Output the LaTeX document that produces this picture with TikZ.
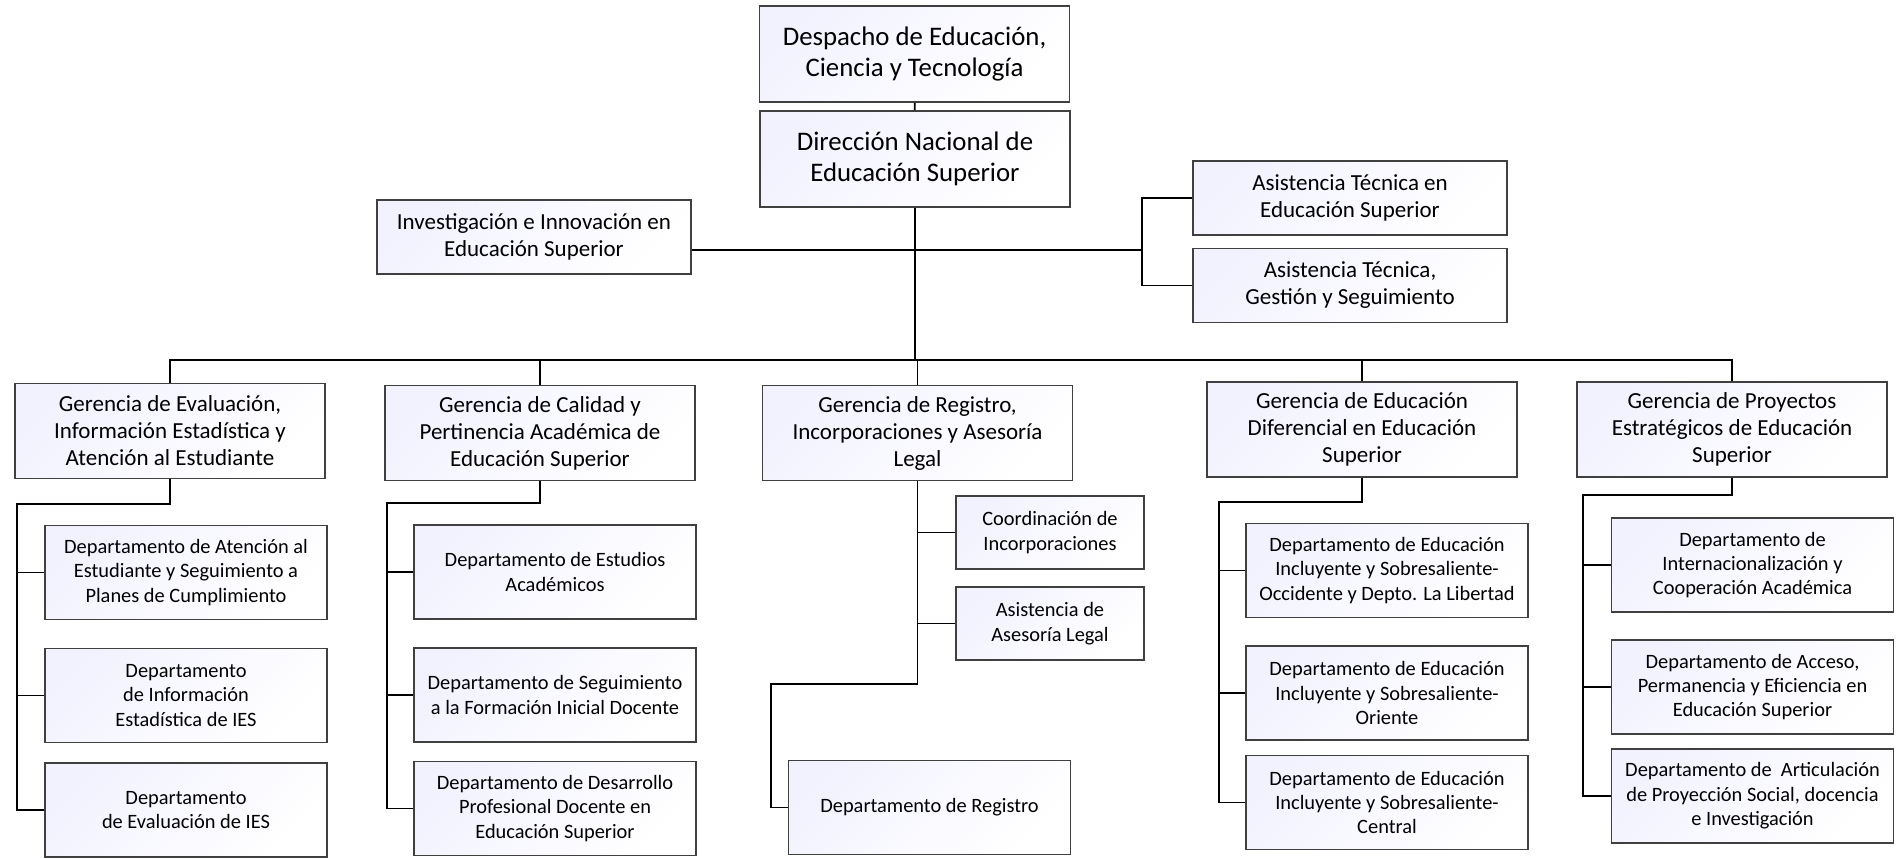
\documentclass[tikz,border=0pt]{standalone}
\usepackage{fontspec}
\setmainfont{Carlito}

\tikzset{
  unit/.style={draw=black!75, line width=0.9pt, left color=blue!5!white, middle color=white, right color=white, shading angle=45, align=center, inner sep=0pt},
  big/.style={unit, minimum width=155pt, minimum height=48pt, font=\fontsize{13.4}{15.5}\selectfont},
  mid/.style={unit, minimum width=157pt, minimum height=37pt, font=\fontsize{11.5}{13.5}\selectfont},
  ger/.style={unit, minimum width=155pt, minimum height=47.5pt, font=\fontsize{11.5}{13.5}\selectfont},
  dep/.style={unit, minimum width=141pt, minimum height=47pt, font=\fontsize{10.2}{12.2}\selectfont},
  small/.style={dep, minimum width=94pt, minimum height=36.5pt},
  link/.style={line width=0.9pt}
}

\begin{document}
\begin{tikzpicture}[x=0.5pt, y=-0.5pt]
\useasboundingbox (0,0) rectangle (1900,858);

	\node[big] (desp) at (914.5,54) {Despacho de Educación,\\Ciencia y Tecnología};
	\node[big] (dir) at (915,159) {Dirección Nacional de\\Educación Superior};
	\node[mid] (inv) at (534,237) {Investigación e Innovación en\\Educación Superior};
	\node[mid] (at1) at (1350,198) {Asistencia Técnica en\\Educación Superior};
	\node[mid] (at2) at (1350,285.5) {Asistencia Técnica,\\Gestión y Seguimiento};

	\node[ger] (g1) at (170,431) {Gerencia de Evaluación,\\Información Estadística y\\Atención al Estudiante};
	\node[ger] (g2) at (540,433) {Gerencia de Calidad y\\Pertinencia Académica de\\Educación Superior};
	\node[ger] (g3) at (917.5,433) {Gerencia de Registro,\\Incorporaciones y Asesoría\\Legal};
	\node[ger] (g4) at (1362,429.5) {Gerencia de Educación\\Diferencial en Educación\\Superior};
	\node[ger] (g5) at (1732,429.5) {Gerencia de Proyectos\\Estratégicos de Educación\\Superior};

	\node[dep] (e1) at (186,572.5) {Departamento de Atención al\\Estudiante y Seguimiento a\\Planes de Cumplimiento};
	\node[dep] (e2) at (186,695.5) {Departamento\\de Información\\Estadística de IES};
	\node[dep] (e3) at (186,810) {Departamento\\de Evaluación de IES};

	\node[dep] (c1) at (555,572) {Departamento de Estudios\\Académicos};
	\node[dep] (c2) at (555,695) {Departamento de Seguimiento\\a la Formación Inicial Docente};
	\node[dep] (c3) at (555,808.5) {Departamento de Desarrollo\\Profesional Docente en\\Educación Superior};

	\node[small] (coo) at (1050,532.5) {Coordinación de\\Incorporaciones};
	\node[small] (ase) at (1050,623.5) {Asistencia de\\Asesoría Legal};
	\node[dep] (reg) at (929.5,807.5) {Departamento de Registro};

	\node[dep] (d1) at (1387,570.5) {Departamento de Educación\\Incluyente y Sobresaliente-\\Occidente y Depto. La Libertad};
	\node[dep] (d2) at (1387,693) {Departamento de Educación\\Incluyente y Sobresaliente-\\Oriente};
	\node[dep] (d3) at (1387,802.5) {Departamento de Educación\\Incluyente y Sobresaliente-\\Central};

	\node[dep] (p1) at (1752.5,565) {Departamento de\\Internacionalización y\\Cooperación Académica};
	\node[dep] (p2) at (1752.5,687) {Departamento de Acceso,\\Permanencia y Eficiencia en\\Educación Superior};
	\node[dep] (p3) at (1752.5,796) {Departamento de \ Articulación\\de Proyección Social, docencia\\e Investigación};

	\coordinate (bus) at (915,360);
	\coordinate (j) at (915,250);
	\coordinate (b) at (1142,250);
	\coordinate (k1) at (17,504);
	\coordinate (k2) at (387,503);
	\coordinate (k3) at (771,684);
	\coordinate (k4) at (1219,502);
	\coordinate (k5) at (1583,495);

	\draw[link] (desp) -- (dir);
	\draw[link] (dir.south) -- (bus);
	\draw[link] (inv.east |- j) -- (b);
	\draw[link] (at1.west) -| (b) |- (at2.west);
	\draw[link] (g1.north) |- (bus) -| (g5.north);
	\foreach \g in {g2,g3,g4} \draw[link] (bus) -| (\g.north);

	\draw[link] (g1.south) |- (k1) |- (e3.west);
	\foreach \n in {e1,e2} \draw[link] (k1 |- \n.west) -- (\n.west);
	\draw[link] (g2.south) |- (k2) |- (c3.west);
	\foreach \n in {c1,c2} \draw[link] (k2 |- \n.west) -- (\n.west);
	\draw[link] (g3.south) |- (k3) |- (reg.west);
	\foreach \n in {coo,ase} \draw[link] (g3.south |- \n.west) -- (\n.west);
	\draw[link] (g4.south) |- (k4) |- (d3.west);
	\foreach \n in {d1,d2} \draw[link] (k4 |- \n.west) -- (\n.west);
	\draw[link] (g5.south) |- (k5) |- (p3.west);
	\foreach \n in {p1,p2} \draw[link] (k5 |- \n.west) -- (\n.west);

\end{tikzpicture}
\end{document}
